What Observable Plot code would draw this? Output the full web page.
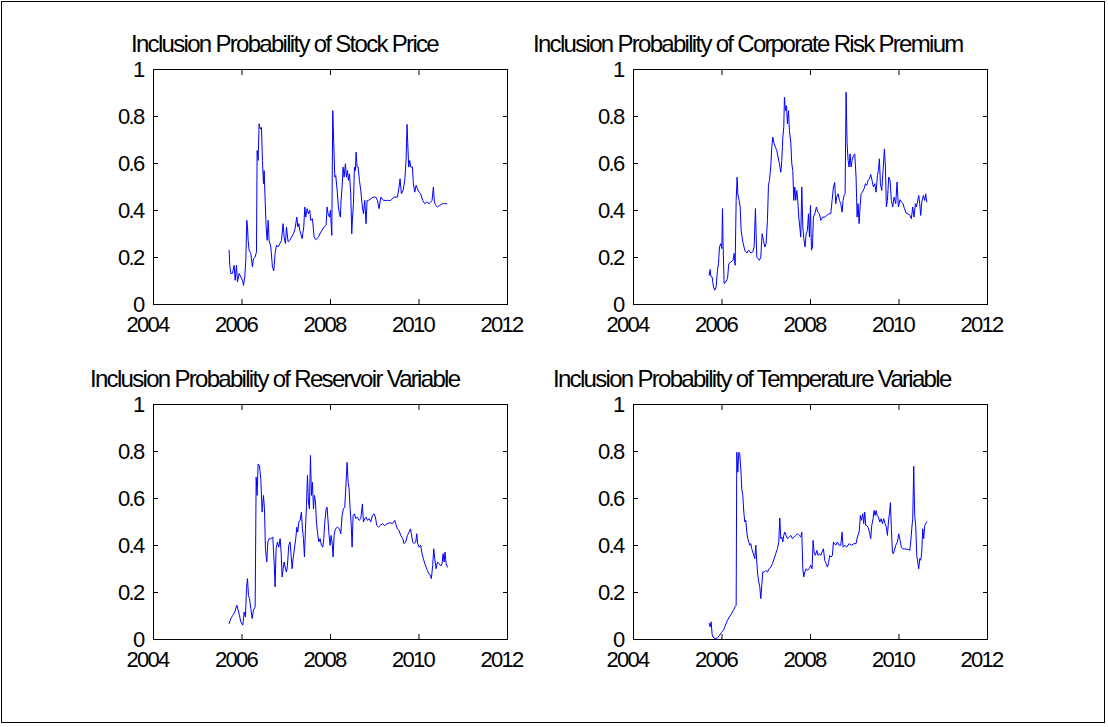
<!DOCTYPE html>
<html>
<head>
<meta charset="utf-8">
<script src="https://cdn.jsdelivr.net/npm/d3@7"></script>
<script src="https://cdn.jsdelivr.net/npm/@observablehq/plot@0.6"></script>
<style>
  html, body { margin: 0; padding: 0; background: #fff; }
  #chart { position: relative; width: 1108px; height: 727px; background: #fff; overflow: hidden; }
  #border { position: absolute; left: 1px; top: 1px; width: 1104px; height: 722px; border: 1px solid #000; box-sizing: border-box; }
  .panel { position: absolute; }
  .title { position: absolute; font-family: "Liberation Sans", Arial, sans-serif; font-size: 24px; line-height: 24px; letter-spacing: -1.7px; color: #000; white-space: nowrap; }
  svg text { letter-spacing: -1.7px; }
</style>
</head>
<body>
<div id="chart"><div id="border"></div></div>
<script>
// ---------- data (decimal year, inclusion probability) ----------
const titles = [
  "Inclusion Probability of Stock Price",
  "Inclusion Probability of Corporate Risk Premium",
  "Inclusion Probability of Reservoir Variable",
  "Inclusion Probability of Temperature Variable"
];
const xTicks = [2004, 2006, 2008, 2010, 2012];
const xTickLabels = ["2004", "2006", "2008", "2010", "2012"];
const yTicks = [0, 0.2, 0.4, 0.6, 0.8, 1];
const yTickLabels = ["0", "0.2", "0.4", "0.6", "0.8", "1"];

const stockPrice = [
[2005.709,0.231],[2005.724,0.167],[2005.747,0.132],[2005.785,0.132],[2005.822,0.167],[2005.845,0.103],
[2005.875,0.167],[2005.898,0.096],[2005.935,0.132],[2005.973,0.117],[2006.011,0.103],[2006.033,0.081],
[2006.063,0.117],[2006.086,0.188],[2006.109,0.358],[2006.124,0.330],[2006.139,0.273],[2006.161,0.231],
[2006.199,0.217],[2006.236,0.160],[2006.259,0.195],[2006.297,0.202],[2006.327,0.224],[2006.342,0.655],
[2006.364,0.613],[2006.387,0.769],[2006.410,0.747],[2006.440,0.754],[2006.462,0.613],[2006.485,0.514],
[2006.500,0.570],[2006.523,0.443],[2006.545,0.330],[2006.568,0.273],[2006.591,0.358],[2006.613,0.273],
[2006.651,0.245],[2006.688,0.160],[2006.718,0.143],[2006.748,0.217],[2006.779,0.252],[2006.816,0.245],
[2006.854,0.259],[2006.892,0.273],[2006.929,0.344],[2006.952,0.287],[2006.982,0.259],[2007.005,0.330],
[2007.042,0.266],[2007.080,0.273],[2007.118,0.287],[2007.163,0.301],[2007.200,0.323],[2007.238,0.372],
[2007.261,0.330],[2007.283,0.344],[2007.306,0.316],[2007.359,0.280],[2007.396,0.330],[2007.419,0.415],
[2007.441,0.372],[2007.472,0.408],[2007.502,0.386],[2007.532,0.401],[2007.554,0.358],[2007.592,0.365],
[2007.630,0.287],[2007.667,0.276],[2007.727,0.287],[2007.780,0.308],[2007.855,0.330],[2007.901,0.337],
[2007.923,0.415],[2007.946,0.386],[2007.976,0.372],[2007.999,0.401],[2008.029,0.294],[2008.051,0.825],
[2008.074,0.684],[2008.097,0.542],[2008.119,0.549],[2008.157,0.471],[2008.179,0.415],[2008.202,0.386],
[2008.224,0.372],[2008.239,0.443],[2008.262,0.500],[2008.285,0.585],[2008.307,0.542],[2008.337,0.599],
[2008.360,0.542],[2008.383,0.570],[2008.405,0.528],[2008.428,0.556],[2008.458,0.471],[2008.480,0.301],
[2008.495,0.358],[2008.518,0.429],[2008.541,0.585],[2008.563,0.570],[2008.578,0.648],[2008.601,0.585],
[2008.624,0.585],[2008.654,0.528],[2008.684,0.485],[2008.721,0.415],[2008.744,0.386],[2008.774,0.443],
[2008.804,0.344],[2008.827,0.443],[2008.857,0.443],[2008.910,0.450],[2008.962,0.457],[2009.023,0.457],
[2009.060,0.443],[2009.098,0.408],[2009.136,0.457],[2009.196,0.443],[2009.286,0.443],[2009.361,0.443],
[2009.437,0.457],[2009.512,0.457],[2009.550,0.500],[2009.572,0.535],[2009.602,0.471],[2009.640,0.485],
[2009.678,0.528],[2009.708,0.613],[2009.730,0.766],[2009.746,0.684],[2009.768,0.585],[2009.791,0.613],
[2009.813,0.585],[2009.851,0.585],[2009.873,0.514],[2009.904,0.478],[2009.934,0.507],[2009.964,0.493],
[2010.002,0.478],[2010.039,0.471],[2010.084,0.443],[2010.130,0.429],[2010.175,0.436],[2010.227,0.429],
[2010.265,0.436],[2010.295,0.443],[2010.325,0.500],[2010.348,0.436],[2010.378,0.422],[2010.416,0.415],
[2010.468,0.422],[2010.529,0.429],[2010.581,0.429],[2010.627,0.429]
];

const corporateRiskPremium = [
[2005.709,0.125],[2005.732,0.149],[2005.747,0.120],[2005.777,0.117],[2005.807,0.075],[2005.837,0.061],
[2005.867,0.075],[2005.898,0.146],[2005.920,0.174],[2005.943,0.245],[2005.973,0.259],[2005.996,0.238],
[2006.011,0.408],[2006.026,0.245],[2006.048,0.089],[2006.086,0.096],[2006.124,0.110],[2006.154,0.174],
[2006.199,0.181],[2006.252,0.188],[2006.274,0.217],[2006.297,0.167],[2006.320,0.443],[2006.342,0.542],
[2006.357,0.471],[2006.387,0.443],[2006.410,0.415],[2006.432,0.316],[2006.470,0.266],[2006.515,0.231],
[2006.560,0.219],[2006.606,0.231],[2006.651,0.219],[2006.696,0.224],[2006.726,0.245],[2006.756,0.408],
[2006.771,0.301],[2006.786,0.202],[2006.816,0.195],[2006.846,0.188],[2006.877,0.202],[2006.907,0.301],
[2006.937,0.273],[2006.967,0.245],[2006.997,0.259],[2007.027,0.358],[2007.050,0.507],[2007.072,0.528],
[2007.102,0.585],[2007.125,0.669],[2007.148,0.712],[2007.178,0.684],[2007.208,0.669],[2007.238,0.655],
[2007.268,0.627],[2007.298,0.599],[2007.329,0.563],[2007.351,0.613],[2007.374,0.712],[2007.396,0.754],
[2007.411,0.882],[2007.434,0.825],[2007.457,0.846],[2007.479,0.769],[2007.502,0.825],[2007.524,0.740],
[2007.554,0.691],[2007.577,0.599],[2007.600,0.570],[2007.622,0.443],[2007.645,0.500],[2007.667,0.443],
[2007.690,0.485],[2007.712,0.443],[2007.735,0.372],[2007.758,0.330],[2007.780,0.287],[2007.803,0.500],
[2007.826,0.330],[2007.848,0.280],[2007.878,0.245],[2007.901,0.301],[2007.931,0.316],[2007.954,0.386],
[2007.976,0.287],[2007.999,0.422],[2008.021,0.231],[2008.044,0.245],[2008.066,0.372],[2008.097,0.386],
[2008.134,0.415],[2008.164,0.393],[2008.202,0.386],[2008.232,0.358],[2008.277,0.372],[2008.322,0.372],
[2008.368,0.379],[2008.413,0.386],[2008.458,0.386],[2008.488,0.443],[2008.518,0.500],[2008.548,0.519],
[2008.571,0.429],[2008.593,0.457],[2008.624,0.471],[2008.654,0.443],[2008.684,0.429],[2008.714,0.393],
[2008.736,0.443],[2008.759,0.464],[2008.782,0.471],[2008.804,0.903],[2008.827,0.684],[2008.850,0.613],
[2008.872,0.585],[2008.895,0.641],[2008.917,0.585],[2008.940,0.613],[2008.970,0.634],[2009.000,0.641],
[2009.030,0.542],[2009.053,0.372],[2009.075,0.429],[2009.098,0.344],[2009.121,0.415],[2009.143,0.471],
[2009.173,0.478],[2009.211,0.493],[2009.241,0.514],[2009.271,0.507],[2009.301,0.528],[2009.331,0.535],
[2009.361,0.553],[2009.391,0.528],[2009.422,0.500],[2009.452,0.514],[2009.482,0.478],[2009.512,0.549],
[2009.535,0.570],[2009.557,0.620],[2009.580,0.514],[2009.610,0.485],[2009.640,0.570],[2009.670,0.662],
[2009.693,0.585],[2009.715,0.415],[2009.738,0.443],[2009.768,0.542],[2009.798,0.528],[2009.828,0.443],
[2009.858,0.415],[2009.889,0.457],[2009.926,0.429],[2009.956,0.521],[2009.986,0.415],[2010.024,0.446],
[2010.054,0.436],[2010.092,0.429],[2010.122,0.408],[2010.160,0.389],[2010.205,0.386],[2010.250,0.379],
[2010.280,0.365],[2010.310,0.415],[2010.340,0.372],[2010.370,0.429],[2010.393,0.415],[2010.416,0.436],
[2010.446,0.464],[2010.468,0.429],[2010.491,0.379],[2010.514,0.436],[2010.551,0.464],[2010.581,0.443],
[2010.604,0.471],[2010.627,0.436]
];

const reservoirVariable = [
[2005.709,0.068],[2005.747,0.089],[2005.792,0.103],[2005.837,0.117],[2005.883,0.146],[2005.913,0.125],
[2005.943,0.103],[2005.973,0.075],[2006.018,0.061],[2006.048,0.117],[2006.078,0.096],[2006.101,0.217],
[2006.124,0.259],[2006.146,0.188],[2006.169,0.174],[2006.199,0.132],[2006.229,0.089],[2006.259,0.125],
[2006.297,0.139],[2006.320,0.691],[2006.342,0.613],[2006.364,0.747],[2006.395,0.740],[2006.425,0.684],
[2006.455,0.542],[2006.485,0.613],[2006.508,0.556],[2006.530,0.386],[2006.560,0.330],[2006.583,0.415],
[2006.613,0.429],[2006.651,0.429],[2006.696,0.436],[2006.726,0.330],[2006.748,0.224],[2006.771,0.386],
[2006.801,0.415],[2006.831,0.393],[2006.862,0.429],[2006.884,0.372],[2006.907,0.266],[2006.929,0.301],
[2006.952,0.330],[2006.982,0.301],[2007.005,0.287],[2007.027,0.316],[2007.057,0.401],[2007.087,0.415],
[2007.110,0.358],[2007.133,0.301],[2007.155,0.344],[2007.185,0.386],[2007.215,0.429],[2007.238,0.478],
[2007.261,0.457],[2007.283,0.500],[2007.313,0.507],[2007.343,0.542],[2007.366,0.471],[2007.389,0.429],
[2007.411,0.351],[2007.434,0.471],[2007.457,0.570],[2007.479,0.698],[2007.502,0.585],[2007.524,0.556],
[2007.547,0.783],[2007.569,0.613],[2007.592,0.669],[2007.615,0.556],[2007.637,0.613],[2007.660,0.585],
[2007.682,0.500],[2007.705,0.457],[2007.735,0.415],[2007.765,0.429],[2007.795,0.401],[2007.826,0.393],
[2007.848,0.429],[2007.871,0.500],[2007.901,0.556],[2007.923,0.563],[2007.946,0.500],[2007.968,0.443],
[2007.991,0.401],[2008.014,0.443],[2008.036,0.415],[2008.059,0.351],[2008.081,0.443],[2008.111,0.471],
[2008.157,0.478],[2008.202,0.471],[2008.232,0.450],[2008.262,0.528],[2008.292,0.556],[2008.322,0.563],
[2008.352,0.669],[2008.375,0.754],[2008.398,0.669],[2008.420,0.641],[2008.443,0.556],[2008.465,0.500],
[2008.488,0.393],[2008.511,0.528],[2008.541,0.535],[2008.571,0.514],[2008.608,0.521],[2008.646,0.507],
[2008.684,0.514],[2008.721,0.577],[2008.744,0.500],[2008.774,0.514],[2008.804,0.521],[2008.834,0.507],
[2008.872,0.514],[2008.910,0.500],[2008.947,0.528],[2008.985,0.535],[2009.015,0.521],[2009.045,0.485],
[2009.083,0.478],[2009.121,0.485],[2009.173,0.493],[2009.226,0.485],[2009.286,0.493],[2009.346,0.497],
[2009.399,0.493],[2009.452,0.507],[2009.482,0.488],[2009.512,0.471],[2009.550,0.464],[2009.587,0.443],
[2009.633,0.429],[2009.663,0.408],[2009.700,0.415],[2009.738,0.443],[2009.776,0.457],[2009.806,0.471],
[2009.828,0.450],[2009.858,0.415],[2009.889,0.408],[2009.926,0.415],[2009.949,0.450],[2009.971,0.408],
[2010.002,0.393],[2010.039,0.401],[2010.069,0.365],[2010.099,0.344],[2010.130,0.323],[2010.160,0.308],
[2010.190,0.294],[2010.220,0.280],[2010.250,0.276],[2010.280,0.259],[2010.310,0.316],[2010.333,0.386],
[2010.355,0.344],[2010.386,0.301],[2010.416,0.330],[2010.453,0.323],[2010.491,0.313],[2010.521,0.323],
[2010.544,0.365],[2010.566,0.330],[2010.589,0.372],[2010.612,0.323],[2010.642,0.308]
];

const temperatureVariable = [
[2005.709,0.068],[2005.732,0.054],[2005.755,0.075],[2005.777,0.021],[2005.807,0.007],[2005.852,0.004],
[2005.898,0.007],[2005.943,0.018],[2005.988,0.030],[2006.033,0.040],[2006.078,0.061],[2006.124,0.082],
[2006.169,0.096],[2006.214,0.110],[2006.259,0.125],[2006.297,0.139],[2006.320,0.146],[2006.334,0.797],
[2006.357,0.712],[2006.380,0.797],[2006.402,0.790],[2006.425,0.726],[2006.447,0.641],[2006.470,0.613],
[2006.493,0.542],[2006.515,0.500],[2006.538,0.507],[2006.560,0.457],[2006.583,0.429],[2006.606,0.415],
[2006.628,0.401],[2006.651,0.408],[2006.673,0.386],[2006.696,0.372],[2006.718,0.358],[2006.741,0.344],
[2006.764,0.401],[2006.786,0.330],[2006.809,0.273],[2006.831,0.245],[2006.854,0.224],[2006.877,0.174],
[2006.899,0.231],[2006.922,0.287],[2006.952,0.287],[2006.989,0.294],[2007.027,0.287],[2007.065,0.301],
[2007.102,0.308],[2007.140,0.323],[2007.178,0.344],[2007.215,0.365],[2007.253,0.386],[2007.283,0.415],
[2007.306,0.517],[2007.329,0.429],[2007.351,0.436],[2007.374,0.415],[2007.396,0.443],[2007.419,0.457],
[2007.449,0.443],[2007.479,0.429],[2007.517,0.436],[2007.554,0.443],[2007.592,0.429],[2007.630,0.436],
[2007.667,0.443],[2007.705,0.450],[2007.742,0.443],[2007.780,0.436],[2007.803,0.457],[2007.826,0.301],
[2007.848,0.266],[2007.871,0.287],[2007.901,0.301],[2007.931,0.294],[2007.968,0.301],[2008.006,0.316],
[2008.036,0.301],[2008.059,0.422],[2008.081,0.372],[2008.111,0.358],[2008.142,0.379],[2008.172,0.358],
[2008.202,0.365],[2008.232,0.358],[2008.262,0.372],[2008.292,0.386],[2008.322,0.337],[2008.352,0.323],
[2008.383,0.308],[2008.405,0.323],[2008.435,0.358],[2008.465,0.351],[2008.495,0.358],[2008.518,0.415],
[2008.541,0.408],[2008.571,0.401],[2008.608,0.415],[2008.646,0.401],[2008.684,0.401],[2008.714,0.457],
[2008.736,0.393],[2008.774,0.401],[2008.819,0.393],[2008.872,0.408],[2008.925,0.401],[2008.985,0.408],
[2009.030,0.408],[2009.060,0.436],[2009.098,0.457],[2009.128,0.528],[2009.151,0.507],[2009.181,0.535],
[2009.203,0.493],[2009.226,0.542],[2009.248,0.485],[2009.271,0.485],[2009.301,0.478],[2009.331,0.457],
[2009.361,0.429],[2009.384,0.485],[2009.414,0.514],[2009.437,0.549],[2009.459,0.528],[2009.482,0.549],
[2009.505,0.528],[2009.535,0.521],[2009.565,0.500],[2009.595,0.514],[2009.625,0.493],[2009.655,0.514],
[2009.685,0.493],[2009.715,0.478],[2009.738,0.443],[2009.761,0.500],[2009.783,0.535],[2009.806,0.582],
[2009.828,0.471],[2009.851,0.372],[2009.873,0.365],[2009.896,0.379],[2009.926,0.401],[2009.964,0.415],
[2009.994,0.450],[2010.024,0.422],[2010.054,0.393],[2010.084,0.386],[2010.115,0.386],[2010.160,0.384],
[2010.205,0.384],[2010.243,0.379],[2010.265,0.415],[2010.288,0.471],[2010.310,0.514],[2010.333,0.737],
[2010.355,0.528],[2010.378,0.485],[2010.401,0.358],[2010.423,0.330],[2010.446,0.301],[2010.468,0.344],
[2010.491,0.337],[2010.514,0.372],[2010.536,0.471],[2010.559,0.429],[2010.581,0.485],[2010.604,0.493],
[2010.627,0.500]
];

const seriesList = [stockPrice, corporateRiskPremium, reservoirVariable, temperatureVariable];

// ---------- layout ----------
const M = {left: 60, right: 20, top: 50, bottom: 40};
const frameW = 354, frameH = 235;
const frameLeft = [153, 633, 153, 633];
const frameTop = [69, 69, 404, 404];
const titleLeft = [131, 533, 90, 553];
const FONT = '"Liberation Sans", Arial, sans-serif';

const chart = document.getElementById("chart");

seriesList.forEach((data, i) => {
  const plot = Plot.plot({
    width: M.left + frameW + M.right,
    height: M.top + frameH + M.bottom,
    marginLeft: M.left, marginRight: M.right, marginTop: M.top, marginBottom: M.bottom,
    style: {fontFamily: FONT, fontSize: "22px", background: "transparent", color: "#000", overflow: "visible"},
    x: {domain: [2004, 2012], label: null},
    y: {domain: [0, 1], label: null},
    marks: [
      Plot.line(data, {x: d => d[0], y: d => d[1], stroke: "#0000ff", strokeWidth: 1}),
      Plot.frame({stroke: "#000", strokeWidth: 1}),
      Plot.axisX(xTicks, {anchor: "bottom", tickSize: 0, tickPadding: 12, dx: -6,
        tickFormat: d => xTickLabels[xTicks.indexOf(d)], label: null, fill: "#000"}),
      Plot.axisX(xTicks, {anchor: "bottom", tickSize: -5, text: null, label: null, stroke: "#000"}),
      Plot.axisX(xTicks, {anchor: "top", tickSize: -5, text: null, label: null, stroke: "#000"}),
      Plot.axisY(yTicks, {anchor: "left", tickSize: 0, tickPadding: 10,
        tickFormat: d => yTickLabels[yTicks.indexOf(d)], label: null, fill: "#000"}),
      Plot.axisY(yTicks, {anchor: "left", tickSize: -5, text: null, label: null, stroke: "#000"}),
      Plot.axisY(yTicks, {anchor: "right", tickSize: -5, text: null, label: null, stroke: "#000"})
    ]
  });
  const wrap = document.createElement("div");
  wrap.className = "panel";
  wrap.style.left = (frameLeft[i] - M.left) + "px";
  wrap.style.top = (frameTop[i] - M.top) + "px";
  wrap.appendChild(plot);
  chart.appendChild(wrap);

  const t = document.createElement("div");
  t.className = "title";
  t.textContent = titles[i];
  t.style.left = titleLeft[i] + "px";
  t.style.top = (frameTop[i] - 37) + "px";
  chart.appendChild(t);
});
</script>
</body>
</html>
